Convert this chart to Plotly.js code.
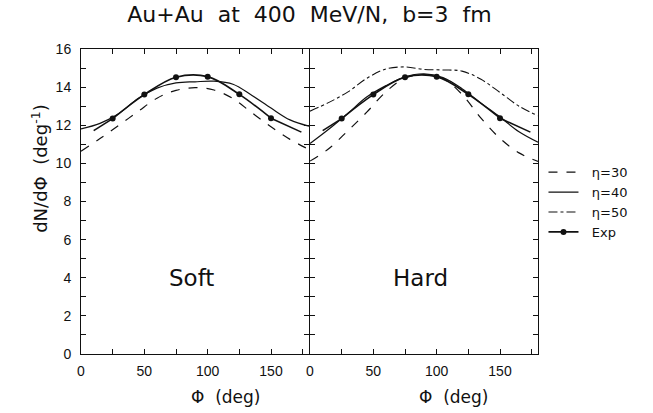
<!DOCTYPE html>
<html>
<head>
<meta charset="utf-8">
<script src="https://cdn.plot.ly/plotly-3.0.1.min.js"></script>
<style>html,body{margin:0;padding:0;background:#fff;}#chart{width:653px;height:413px;}</style>
</head>
<body>
<div id="chart"></div>
<script>
// Azimuthal angle grid (deg) at which the model curves were read
const phiGrid = [0, 15, 30, 45, 60, 75, 90, 105, 120, 135, 150, 165, 180];

// Soft EOS panel
const softEta30 = [10.64, 11.30, 12.00, 12.72, 13.42, 13.83, 13.97, 13.85, 13.40, 12.65, 11.92, 11.26, 10.73];
const softEta40 = [11.81, 12.10, 12.62, 13.40, 13.95, 14.22, 14.28, 14.31, 14.15, 13.56, 12.90, 12.28, 11.95];

// Hard EOS panel
const hardEta30 = [10.12, 10.78, 11.72, 12.70, 13.76, 14.48, 14.65, 14.45, 13.62, 12.37, 11.31, 10.55, 10.10];
const hardEta40 = [11.04, 11.80, 12.63, 13.49, 14.08, 14.54, 14.70, 14.50, 13.92, 13.16, 12.43, 11.66, 11.11];
const hardEta50 = [12.74, 13.20, 13.75, 14.47, 14.95, 15.06, 14.93, 14.90, 14.84, 14.41, 13.72, 13.00, 12.50];

// Experimental points and the ends of the curve drawn through them
const expPhi = [25, 50, 75, 100, 125, 150];
const expVal = [12.35, 13.61, 14.52, 14.55, 13.62, 12.37];
const expEndPhi = [10, 174];
const expEndVal = [11.72, 11.64];

// Axis ticks
const xTickVals = [0, 25, 50, 75, 100, 125, 150, 175];
const xTickText = ['0', '', '50', '', '100', '', '150', ''];
const yTickVals = [0,1,2,3,4,5,6,7,8,9,10,11,12,13,14,15,16];
const yTickText = ['0','','2','','4','','6','','8','','10','','12','','14','','16'];

const legendNames = ['\u00a0\u00a0\u03b7=30', '\u00a0\u00a0\u03b7=40', '\u00a0\u00a0\u03b7=50', '\u00a0\u00a0Exp'];
const panelLabels = ['Soft', 'Hard'];

const BLACK = '#111';
const styles = {
  eta30: {color: BLACK, width: 1.2, dash: 'dash', shape: 'spline'},
  eta40: {color: BLACK, width: 1.2, dash: 'solid', shape: 'spline'},
  eta50: {color: BLACK, width: 1.1, dash: 'dashdot', shape: 'spline'},
  exp:   {color: BLACK, width: 1.6, dash: 'solid', shape: 'spline'}
};

function curve(x, y, xa, ya, line, name, show) {
  return {x: x, y: y, xaxis: xa, yaxis: ya, type: 'scatter', mode: 'lines',
          line: line, name: name, showlegend: show, hoverinfo: 'skip'};
}
function expTraces(xa, ya, show) {
  const tails = {
    x: [expEndPhi[0], expPhi[0], null, expPhi[expPhi.length - 1], expEndPhi[1]],
    y: [expEndVal[0], expVal[0], null, expVal[expVal.length - 1], expEndVal[1]],
    xaxis: xa, yaxis: ya, type: 'scatter', mode: 'lines', line: styles.exp,
    showlegend: false, connectgaps: false, hoverinfo: 'skip'
  };
  const pts = {
    x: expPhi, y: expVal, xaxis: xa, yaxis: ya, type: 'scatter', mode: 'lines+markers',
    line: styles.exp, marker: {color: BLACK, size: 6, symbol: 'circle'},
    name: legendNames[3], showlegend: show, hoverinfo: 'skip'
  };
  return [tails, pts];
}

const data = [
  // Hard panel (legend entries)
  curve(phiGrid, hardEta30, 'x2', 'y2', styles.eta30, legendNames[0], true),
  curve(phiGrid, hardEta40, 'x2', 'y2', styles.eta40, legendNames[1], true),
  curve(phiGrid, hardEta50, 'x2', 'y2', styles.eta50, legendNames[2], true),
  ...expTraces('x2', 'y2', true),
  // Soft panel
  curve(phiGrid, softEta30, 'x', 'y', styles.eta30, legendNames[0], false),
  curve(phiGrid, softEta40, 'x', 'y', styles.eta40, legendNames[1], false),
  ...expTraces('x', 'y', false)
];

const tickFont = {family: 'Liberation Sans, Arial, sans-serif', size: 14, color: BLACK};
function xAxis(domain, anchor) {
  return {domain: domain, anchor: anchor, range: [0, 180], tickvals: xTickVals, ticktext: xTickText,
          ticks: 'inside', ticklen: 5, tickwidth: 1, tickcolor: BLACK, mirror: 'allticks',
          showline: true, linecolor: BLACK, linewidth: 1, showgrid: false, zeroline: false,
          tickfont: tickFont, ticklabelstandoff: 4};
}
function yAxis(anchor, labels) {
  return {anchor: anchor, range: [0, 16], tickvals: yTickVals, ticktext: yTickText,
          ticks: 'inside', ticklen: 5, tickwidth: 1, tickcolor: BLACK, mirror: 'allticks',
          showline: true, linecolor: BLACK, linewidth: 1, showgrid: false, zeroline: false,
          showticklabels: labels, tickfont: tickFont, ticklabelstandoff: 6};
}

const layout = {
  width: 653, height: 413,
  margin: {l: 81, r: 115, t: 49, b: 59},
  paper_bgcolor: '#fff', plot_bgcolor: '#fff',
  font: {family: 'DejaVu Sans, sans-serif', color: BLACK},
  title: {text: 'Au+Au\u00a0 at\u00a0 400\u00a0 MeV/N,\u00a0 b=3\u00a0 fm', xref: 'paper', x: 0.5, xanchor: 'center',
          yref: 'container', y: 0.965, yanchor: 'middle',
          font: {family: 'DejaVu Sans, sans-serif', size: 22, color: BLACK}},
  xaxis: xAxis([0, 0.4989], 'y'),
  xaxis2: xAxis([0.5011, 1], 'y2'),
  yaxis: yAxis('x', true),
  yaxis2: Object.assign(yAxis('x2', false), {matches: 'y'}),
  showlegend: true,
  legend: {x: 1.012, xanchor: 'left', y: 0.645, yanchor: 'top', bgcolor: 'rgba(0,0,0,0)',
           font: {family: 'DejaVu Sans, sans-serif', size: 13, color: BLACK},
           tracegroupgap: 0, itemwidth: 30},
  annotations: [
    {text: panelLabels[0], xref: 'x', yref: 'y', x: 87, y: 4.0, showarrow: false,
     font: {family: 'DejaVu Sans, sans-serif', size: 23, color: BLACK}},
    {text: panelLabels[1], xref: 'x2', yref: 'y2', x: 87, y: 4.0, showarrow: false,
     font: {family: 'DejaVu Sans, sans-serif', size: 23, color: BLACK}},
    {text: '\u03a6\u00a0 (deg)', xref: 'paper', yref: 'paper', x: 0.317, y: -0.14, showarrow: false,
     xanchor: 'center', yanchor: 'middle', font: {family: 'DejaVu Sans, sans-serif', size: 17, color: BLACK}},
    {text: '\u03a6\u00a0 (deg)', xref: 'paper', yref: 'paper', x: 0.816, y: -0.14, showarrow: false,
     xanchor: 'center', yanchor: 'middle', font: {family: 'DejaVu Sans, sans-serif', size: 17, color: BLACK}},
    {text: 'dN/d\u03a6\u00a0 (deg<sup>-1</sup>)', xref: 'paper', yref: 'paper', x: -0.09, y: 0.61,
     textangle: -90, showarrow: false, xanchor: 'center', yanchor: 'middle',
     font: {family: 'DejaVu Sans, sans-serif', size: 18, color: BLACK}}
  ]
};

Plotly.newPlot('chart', data, layout, {staticPlot: true, displayModeBar: false});
</script>
</body>
</html>
